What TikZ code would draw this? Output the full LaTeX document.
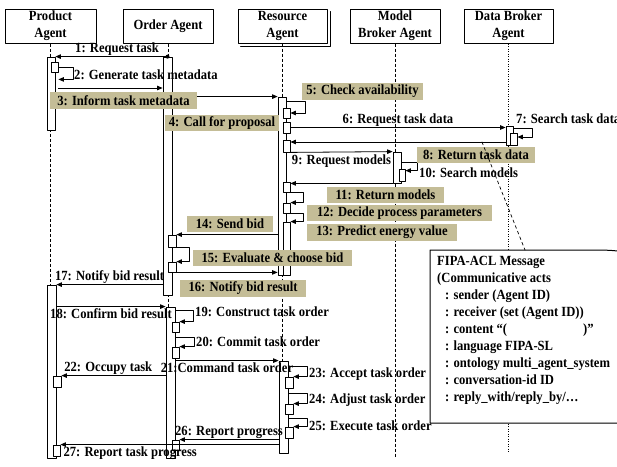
\documentclass[tikz,border=0pt]{standalone}
\usepackage{fontspec}
\setmainfont{Liberation Serif}[FakeStretch=0.9]
\usetikzlibrary{arrows.meta,positioning,fit,backgrounds}
\definecolor{tagtan}{RGB}{196,189,151}

\begin{document}
\begin{tikzpicture}[x=1pt, y=-1pt, line cap=round, line join=round,
	every node/.style={font=\bfseries\fontsize{14}{16}\selectfont, inner sep=1pt},
	agent/.style={draw, fill=white, line width=1pt, minimum height=34pt, align=center, inner sep=0pt,
		font=\bfseries\fontsize{14}{17}\selectfont},
	life/.style={dash pattern=on 3pt off 2pt, line width=0.7pt},
	act/.style={draw, fill=white, line width=0.8pt, inner sep=0pt},
	msg/.style={line width=0.8pt, -{Triangle[length=5.5pt,width=4.5pt]}},
	tag/.style={fill=tagtan, minimum height=16.5pt, inner sep=0pt}]
	
	\useasboundingbox (0,0) rectangle (617,466);
	
	% agents
	\node[agent, minimum width=91pt] (prod) at (50.5,26) {Product\\Agent};
	\node[agent, minimum width=90pt] (ord) at (168,26) {Order Agent};
	\node[agent, minimum width=89pt] (res) at (282.5,26) {Resource\\Agent};
	\draw[line width=1pt] ([xshift=2.5pt,yshift=-3pt]res.north east) -- ([xshift=2.5pt,yshift=-2.5pt]res.south east)
		-- ([xshift=3pt,yshift=-2.5pt]res.south west);
	\node[agent, minimum width=90pt] (mod) at (395,26) {Model\\Broker Agent};
	\node[agent, minimum width=89pt] (dat) at (508.5,26) {Data Broker\\Agent};
	
	% activation bars
	\node[act, fit={(47,57)(55,130)}] (pb1) {};
	\node[act, fit={(47,285)(56,458)}] (pb2) {};
	\node[act, fit={(51,62)(58,72)}] (pc1) {};
	\node[act, fit={(53,376)(61,387)}] (pc2) {};
	\node[act, fit={(53,445)(60,456)}] (pc3) {};
	
	\node[act, fit={(163,57)(172,295)}] (ob1) {};
	\node[act, fit={(166,307)(175,458)}] (ob2) {};
	\node[act, fit={(168,235)(176,247)}] (oc1) {};
	\node[act, fit={(168,262)(176,272)}] (oc2) {};
	\node[act, fit={(172,322)(179,332)}] (oc3) {};
	\node[act, fit={(172,347)(179,358)}] (oc4) {};
	\node[act, fit={(172,440)(179,450)}] (oc5) {};
	
	\node[act, fit={(278,97)(286,275)}] (rb1) {};
	\node[act, fit={(283,222)(290,275)}] (rb2) {};
	\node[act, fit={(283,108)(290,118)}] (rc1) {};
	\node[act, fit={(283,122)(290,133)}] (rc2) {};
	\node[act, fit={(283,140)(290,152)}] (rc3) {};
	\node[act, fit={(283,182)(290,192)}] (rc4) {};
	\node[act, fit={(283,203)(290,213)}] (rc5) {};
	\node[act, fit={(279,361)(288,453)}] (rb3) {};
	\node[act, fit={(285,377)(293,388)}] (rc6) {};
	\node[act, fit={(285,404)(293,414)}] (rc7) {};
	\node[act, fit={(285,427)(293,438)}] (rc8) {};
	
	\node[act, fit={(393,152)(401,183)}] (mb1) {};
	\node[act, fit={(399,169)(405,181)}] (mc1) {};
	
	\node[act, fit={(506,126)(513,145)}] (db1) {};
	\node[act, fit={(510,133)(517,145)}] (dc1) {};
	
	% lifelines
	\begin{scope}[on background layer]
		\draw[life] (prod.south) -- (prod.south |- pb2.south);
		\draw[life] (ord.south) -- (ord.south |- ob2.north);
		\draw[life] (res.south) -- (res.south |- rb3.north);
		\draw[life] (mod.south) -- (mod.south |- ob2.south);
		\draw[dash pattern=on 1pt off 1.5pt, line width=0.7pt] (dat.south) -- (dat.south |- rb3.south);
	\end{scope}
	
	% messages
	\fill (ob1.north) circle (2pt);
	\draw[msg] (ob1.north) -- (pb1.north east) node[pos=0.45, above] {1: Request task};
	\draw[msg] (pc1.east) -- ++(15,0) |- ([yshift=-7pt]pc1.south east);
	\node[right] (l2) at (73,75) {2: Generate task metadata};
	\draw[msg] (pc1.south east |- 0,88) -- (ob1.west |- 0,88);
	\draw[msg] (ob1.east |- rb1.north) -- (rb1.north west);
	
	\draw[msg] (rb1.east |- 0,101) -- ++(19,0) |- (rc1.east);
	\draw[msg] (rc2.east) -- (db1.west |- rc2.east) node[midway, above] {6: Request task data};
	\draw[msg] (db1.east |- 0,128) -- ++(19,0) |- (dc1.north east |- 0,137);
	\node[right] (l7) at (515,119) {7: Search task data};
	\draw[msg] (db1.west |- 0,142) -- (rc3.east |- 0,142);
	\draw[msg] (rc3.south east) -- (mb1.north west) node[midway, below=1pt] {9: Request models};
	\draw[msg] (mb1.east |- 0,162) -- ++(16,0) |- ([yshift=-2pt]mc1.north east);
	\node[right] (l10) at (418,173) {10: Search models};
	\draw[msg] (mb1.south west) -- (rc4.east |- mb1.south west);
	\draw[msg] (rc4.south east) -- ++(13,0) |- (rc5.north east);
	\draw[msg] (rc5.south east) -- ++(13,0) |- (rb2.north east);
	\draw[msg] (rb1.west |- oc1.north) -- (oc1.north east);
	\draw[msg] (oc1.south east) -- ++(13,0) |- (oc2.north east);
	\draw[msg] (oc2.south east) -- (rb1.west |- oc2.south east);
	\draw[msg] (ob1.west |- pb2.north) -- (pb2.north east) node[midway, above] {17: Notify bid result};
	\draw[msg] (pb2.east |- ob2.north) -- (ob2.north west) node[midway, below=1pt] {18: Confirm bid result};
	\draw[msg] (ob2.east |- 0,310) -- ++(18,0) |- (oc3.north east);
	\node[right] (l19) at (194,312) {19: Construct task order};
	\draw[msg] (ob2.east |- 0,337) -- ++(19,0) |- (oc4.north east);
	\node[right] (l20) at (195,342) {20: Commit task order};
	\draw[msg] (ob2.east |- rb3.north) -- (rb3.north west) node[midway, below=1pt] {21:Command task order};
	\draw[msg] (ob2.west |- pc2.north) -- (pc2.north east) node[pos=0.55, above] {22: Occupy task};
	\draw[msg] (rb3.east |- 0,366) -- ++(19,0) |- (rc6.north east);
	\node[right] (l23) at (308,374) {23: Accept task order};
	\draw[msg] (rb3.east |- 0,393) -- ++(19,0) |- (rc7.north east);
	\node[right] (l24) at (308,400) {24: Adjust task order};
	\draw[msg] (rb3.east |- 0,418) -- ++(19,0) |- (rc8.north east);
	\node[right] (l25) at (308,426) {25: Execute task order};
	\draw[msg] (rb3.west |- oc5.north) -- (oc5.north east) node[midway, above] {26: Report progress};
	\draw[msg] (rb3.west |- pc3.north) -- (pc3.north east) node[pos=0.68, below=1pt] {27: Report task progress};
	
	% shaded message tags
	\node[tag, minimum width=147pt] (t3) at (123.5,100.5) {3: Inform task metadata};
	\node[tag, minimum width=114pt] (t4) at (222,123) {4: Call for proposal};
	\node[tag, minimum width=121pt] (t5) at (362.5,91.5) {5: Check availability};
	\node[tag, minimum width=118pt] (t8) at (476,155) {8: Return task data};
	\node[tag, minimum width=117pt] (t11) at (385.5,195) {11: Return models};
	\node[tag, minimum width=185pt] (t12) at (399.5,213) {12: Decide process parameters};
	\node[tag, minimum width=150pt] (t13) at (382,232.5) {13: Predict energy value};
	\node[tag, minimum width=86pt] (t14) at (230,224) {14: Send bid};
	\node[tag, minimum width=159pt] (t15) at (272.5,258) {15: Evaluate \& choose bid};
	\node[tag, minimum width=126pt] (t16) at (243,288.5) {16: Notify bid result};
	
	% FIPA-ACL note
	\coordinate (call) at (482,142);
	\coordinate (notetop) at (525,250);
	\draw[fill=white, line width=1pt] (430,423) -- (430,250) -- (585,250) .. controls (640,250) .. (640,310) -- (640,423) -- cycle;
	\draw[dashed, line width=0.7pt] (call) -- (notetop);
	\node[anchor=north west, align=left, inner sep=0pt, font=\bfseries\fontsize{14}{17}\selectfont] (fipa) at (437,256) {%
		FIPA-ACL Message\\
		(Communicative acts\\
		\hspace*{8pt}: sender (Agent ID)\\
		\hspace*{8pt}: receiver (set (Agent ID))\\
		\hspace*{8pt}: content “(\hspace{76pt})”\\
		\hspace*{8pt}: language FIPA-SL\\
		\hspace*{8pt}: ontology multi\_agent\_system\\
		\hspace*{8pt}: conversation-id ID\\
		\hspace*{8pt}: reply\_with/reply\_by/…};
	
\end{tikzpicture}
\end{document}
